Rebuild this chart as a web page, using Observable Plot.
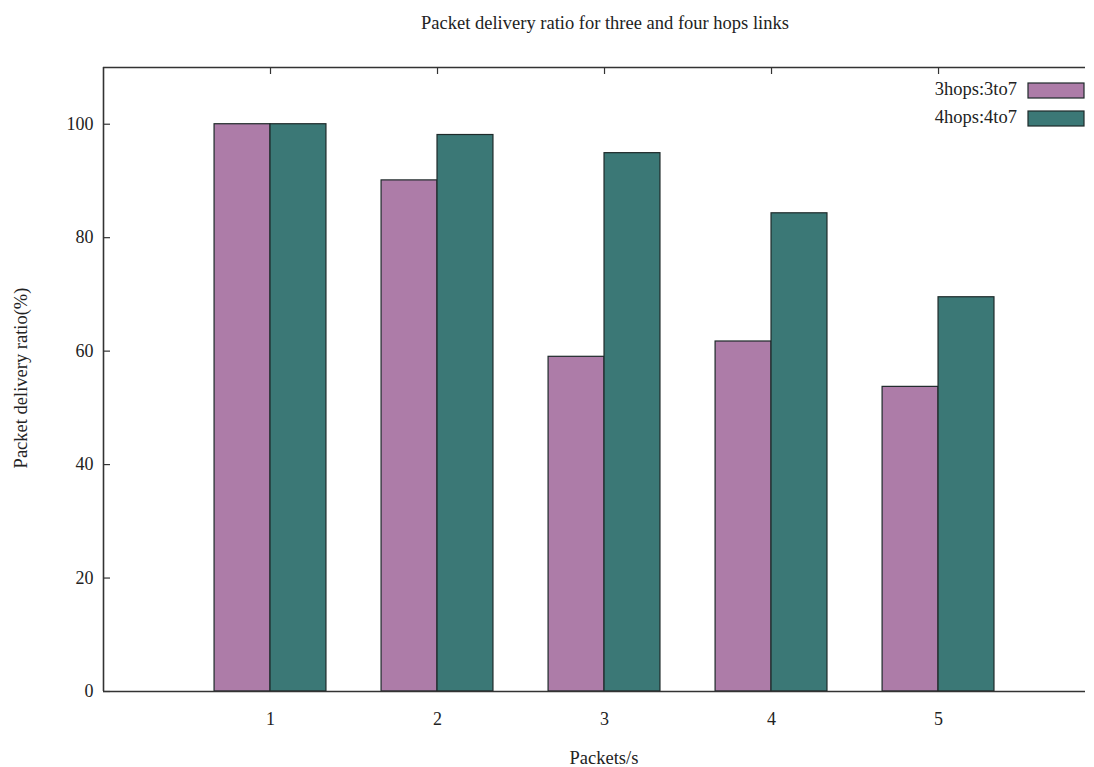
<!DOCTYPE html>
<html>
<head>
<meta charset="utf-8">
<script src="https://cdn.jsdelivr.net/npm/d3@7"></script>
<script src="https://cdn.jsdelivr.net/npm/@observablehq/plot@0.6"></script>
<style>
  body { margin: 0; background: #fff; }
  svg { overflow: visible; }
</style>
</head>
<body>
<div id="chart"></div>
<script>
const categories = [1, 2, 3, 4, 5];
const series = ["3hops:3to7", "4hops:4to7"];
const values3hops = [100, 90.1, 59.0, 61.7, 53.7];
const values4hops = [100, 98.1, 94.9, 84.3, 69.5];
const colors = ["#ad7ca8", "#3b7876"];
const yTicks = [0, 20, 40, 60, 80, 100];

const barWidth = 0.335;
const xMax = 5.88;
const yMax = 110;

const data = [];
categories.forEach((c, i) => {
  data.push({cat: c, series: series[0], value: values3hops[i], off: -barWidth});
  data.push({cat: c, series: series[1], value: values4hops[i], off: 0});
});

const W = 1094, H = 767;
const mL = 103, mR = 9, mT = 67, mB = 76;
const xPerPx = xMax / (W - mL - mR);
const yPerPx = yMax / (H - mT - mB);
const font = "'Liberation Serif', 'DejaVu Serif', serif";
const fs = 18.5;

const plot = Plot.plot({
  width: W,
  height: H,
  marginLeft: mL,
  marginRight: mR,
  marginTop: mT,
  marginBottom: mB,
  style: {fontFamily: font, fontSize: fs + "px", color: "#222", background: "#fff"},
  x: {domain: [0, xMax], axis: null},
  y: {domain: [0, yMax], axis: null},
  color: {domain: series, range: colors},
  marks: [
    Plot.rectY(data, {
      x1: d => d.cat + d.off,
      x2: d => d.cat + d.off + barWidth,
      y1: 0,
      y2: "value",
      fill: "series",
      stroke: "#1e2a2a",
      strokeWidth: 1.2
    }),
    // frame: left, bottom, top
    Plot.ruleX([0], {stroke: "#333", strokeWidth: 1.6}),
    Plot.ruleY([0, yMax], {stroke: "#333", strokeWidth: 1.6}),
    // y ticks (inward)
    Plot.ruleY(yTicks, {x1: 0, x2: 7 * xPerPx, stroke: "#333", strokeWidth: 1.2}),
    Plot.text(yTicks, {x: 0, y: d => d, text: d => String(d), textAnchor: "end", dx: -10, fontSize: 18, fill: "#222"}),
    // x ticks mirrored on top
    Plot.ruleX(categories, {y1: yMax, y2: yMax - 7 * yPerPx, stroke: "#333", strokeWidth: 1.2}),
    Plot.text(categories, {x: d => d, y: 0, text: d => String(d), dy: 28, fontSize: 18, fill: "#222"})
  ]
});

const svg = d3.select(plot);

// Title and axis labels
svg.append("text")
  .attr("x", 605).attr("y", 29)
  .attr("text-anchor", "middle")
  .attr("font-family", font).attr("font-size", fs).attr("fill", "#222")
  .text("Packet delivery ratio for three and four hops links");

svg.append("text")
  .attr("x", 604).attr("y", 764)
  .attr("text-anchor", "middle")
  .attr("font-family", font).attr("font-size", fs).attr("fill", "#222")
  .text("Packets/s");

svg.append("text")
  .attr("transform", "translate(27,378) rotate(-90)")
  .attr("text-anchor", "middle")
  .attr("font-family", font).attr("font-size", fs).attr("fill", "#222")
  .text("Packet delivery ratio(%)");

// Legend
const leg = svg.append("g");
series.forEach((s, i) => {
  const yy = 90 + i * 28;
  leg.append("text")
    .attr("x", 1017).attr("y", yy + 5)
    .attr("text-anchor", "end")
    .attr("font-family", font).attr("font-size", fs).attr("fill", "#222")
    .text(s);
  leg.append("rect")
    .attr("x", 1028).attr("y", yy - 7)
    .attr("width", 56).attr("height", 15)
    .attr("fill", colors[i])
    .attr("stroke", "#1e2a2a").attr("stroke-width", 1.2);
});

document.getElementById("chart").appendChild(plot);
</script>
</body>
</html>
